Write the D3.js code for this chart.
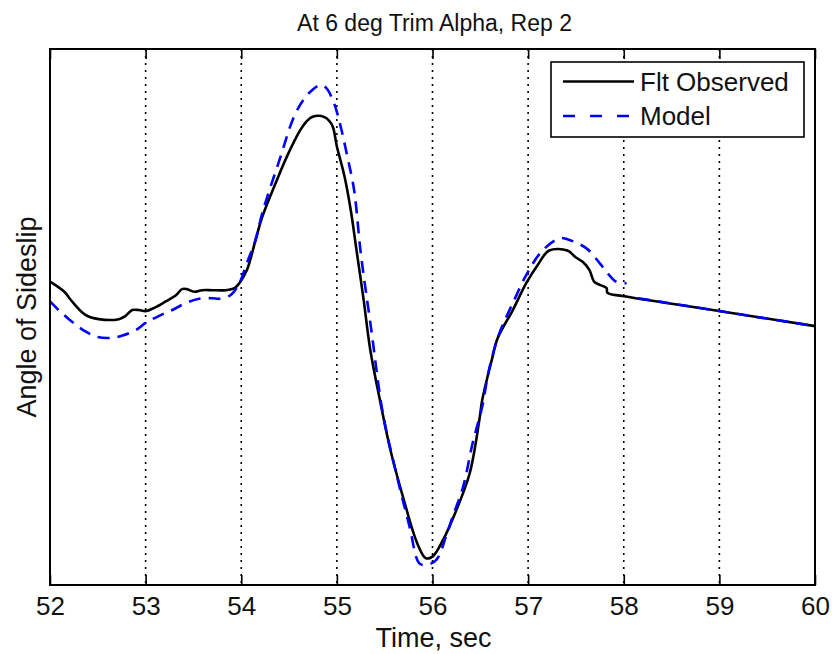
<!DOCTYPE html>
<html>
<head>
<meta charset="utf-8">
<script src="https://cdn.jsdelivr.net/npm/d3@7"></script>
<style>
  body { margin: 0; background: #fff; }
  svg { display: block; font-family: "Liberation Sans", Arial, sans-serif; }
</style>
</head>
<body>
<svg id="chart" width="832" height="654"></svg>
<script>
// Flt Observed (time, angle of sideslip in arbitrary deg)
const obsTime = [52.00, 52.15, 52.23, 52.37, 52.51, 52.72, 52.79, 52.86, 52.93, 53.00,
  53.09, 53.21, 53.32, 53.38, 53.43, 53.51, 53.59, 53.70, 53.84, 53.93,
  53.98, 54.06, 54.15, 54.22, 54.36, 54.50, 54.64, 54.74, 54.87, 54.95,
  55.00, 55.08, 55.15, 55.20, 55.28, 55.35, 55.45, 55.56, 55.70, 55.84,
  55.93, 56.00, 56.11, 56.25, 56.39, 56.49, 56.52, 56.62, 56.68, 56.84,
  56.98, 57.10, 57.22, 57.41, 57.50, 57.57, 57.64, 57.69, 57.75, 57.82,
  57.83, 57.99, 58.93, 60.00];
const obsValue = [-0.34, -0.53, -0.71, -0.96, -1.04, -1.04, -0.98, -0.87, -0.87, -0.89,
  -0.83, -0.71, -0.59, -0.48, -0.48, -0.53, -0.50, -0.50, -0.50, -0.46,
  -0.37, -0.12, 0.44, 0.87, 1.50, 2.08, 2.55, 2.73, 2.73, 2.58,
  2.18, 1.62, 0.94, 0.31, -0.68, -1.62, -2.55, -3.48, -4.41, -5.22,
  -5.50, -5.47, -5.16, -4.60, -3.91, -2.92, -2.55, -1.80, -1.40, -0.87,
  -0.37, -0.03, 0.24, 0.24, 0.11, 0.03, -0.12, -0.34, -0.40, -0.46,
  -0.55, -0.61, -0.87, -1.17];

// Model (null marks the break before the tail)
const modelTime = [52.00, 52.09, 52.23, 52.37, 52.49, 52.64, 52.75, 52.90, 53.00, 53.14,
  53.28, 53.42, 53.56, 53.70, 53.77, 53.89, 53.98, 54.06, 54.15, 54.22,
  54.40, 54.57, 54.71, 54.83, 54.89, 54.97, 55.04, 55.11, 55.18, 55.25,
  55.36, 55.48, 55.62, 55.76, 55.86, 55.93, 56.04, 56.14, 56.21, 56.32,
  56.42, 56.52, 56.59, 56.70, 56.84, 56.98, 57.14, 57.33, 57.41, 57.61,
  57.75, 57.83, 57.92, 58.03, 58.08, 58.15, 60.00];
const modelValue = [-0.71, -0.87, -1.09, -1.27, -1.37, -1.39, -1.35, -1.24, -1.11, -0.98,
  -0.87, -0.74, -0.66, -0.65, -0.66, -0.59, -0.37, 0.01, 0.44, 0.94,
  1.93, 2.81, 3.18, 3.33, 3.27, 2.99, 2.55, 1.99, 1.37, 0.19,
  -1.24, -2.79, -3.91, -4.91, -5.59, -5.63, -5.53, -5.10, -4.73, -4.17,
  -3.35, -2.67, -1.99, -1.30, -0.74, -0.22, 0.22, 0.47, 0.45, 0.28,
  0.00, -0.18, -0.34, -0.37, null, -0.65, -1.17];

const xTicks = [52, 53, 54, 55, 56, 57, 58, 59, 60];
const seriesNames = ["Flt Observed", "Model"];

const margin = { top: 49, right: 17, bottom: 69, left: 50 };
const W = 832, H = 654;
const width = W - margin.left - margin.right;
const height = H - margin.top - margin.bottom;

const svg = d3.select("#chart");
const g = svg.append("g").attr("transform", `translate(${margin.left},${margin.top})`);

const x = d3.scaleLinear().domain([52, 60]).range([0, width]);
const y = d3.scaleLinear().domain([-6, 4]).range([height, 0]);

// dotted vertical grid
g.selectAll(".grid")
  .data(xTicks.slice(1, -1))
  .enter().append("line")
  .attr("x1", d => x(d)).attr("x2", d => x(d))
  .attr("y1", 0).attr("y2", height)
  .attr("stroke", "#000")
  .attr("stroke-width", 1.6)
  .attr("stroke-dasharray", "2,5");

// ticks, bottom with labels, top without
const xAxis = g.append("g")
  .attr("transform", `translate(0,${height})`)
  .call(d3.axisBottom(x).tickValues(xTicks).tickFormat(d3.format("d")).tickSize(-10).tickPadding(12));
xAxis.select(".domain").remove();
xAxis.selectAll("line").attr("stroke-width", 1.6);
xAxis.selectAll("text").attr("font-size", 26).attr("fill", "#111")
  .attr("font-family", "Liberation Sans, Arial, sans-serif");

const xTop = g.append("g")
  .call(d3.axisTop(x).tickValues(xTicks).tickFormat("").tickSize(-10));
xTop.select(".domain").remove();
xTop.selectAll("line").attr("stroke-width", 1.6);

// curves
const line = d3.line()
  .defined(d => d.v !== null)
  .x(d => x(d.t))
  .y(d => y(d.v))
  .curve(d3.curveCatmullRom.alpha(0.5));

const obs = obsTime.map((t, i) => ({ t, v: obsValue[i] }));
const model = modelTime.map((t, i) => ({ t, v: modelValue[i] }));

g.append("path")
  .datum(obs)
  .attr("d", line)
  .attr("fill", "none")
  .attr("stroke", "#000")
  .attr("stroke-width", 2.6);

g.append("path")
  .datum(model)
  .attr("d", line)
  .attr("fill", "none")
  .attr("stroke", "#0000ff")
  .attr("stroke-width", 2.6)
  .attr("stroke-dasharray", "12,8");

// axes box
g.append("rect")
  .attr("width", width).attr("height", height)
  .attr("fill", "none")
  .attr("stroke", "#000")
  .attr("stroke-width", 2);

// legend
const leg = svg.append("g").attr("transform", "translate(551,62)");
leg.append("rect")
  .attr("width", 253).attr("height", 75)
  .attr("fill", "#fff").attr("stroke", "#000").attr("stroke-width", 1.6);
const legStyle = [
  { color: "#000", dash: null, y: 19.5 },
  { color: "#0000ff", dash: "12,15", y: 54 }
];
seriesNames.forEach((name, i) => {
  leg.append("line")
    .attr("x1", 12).attr("x2", 83)
    .attr("y1", legStyle[i].y).attr("y2", legStyle[i].y)
    .attr("stroke", legStyle[i].color)
    .attr("stroke-width", 2.6)
    .attr("stroke-dasharray", legStyle[i].dash);
  leg.append("text")
    .attr("x", 89).attr("y", legStyle[i].y + 9)
    .attr("font-size", 26)
    .attr("fill", "#111")
    .text(name);
});

// title and axis labels
svg.append("text")
  .attr("x", margin.left + width / 2 + 2).attr("y", 31)
  .attr("text-anchor", "middle")
  .attr("font-size", 23)
  .attr("fill", "#111")
  .text("At 6 deg Trim Alpha, Rep 2");

svg.append("text")
  .attr("x", margin.left + width / 2 + 1).attr("y", 647)
  .attr("text-anchor", "middle")
  .attr("font-size", 27)
  .attr("fill", "#111")
  .text("Time, sec");

svg.append("text")
  .attr("transform", `translate(36,${margin.top + height / 2}) rotate(-90)`)
  .attr("text-anchor", "middle")
  .attr("font-size", 27)
  .attr("fill", "#111")
  .text("Angle of Sideslip");
</script>
</body>
</html>
